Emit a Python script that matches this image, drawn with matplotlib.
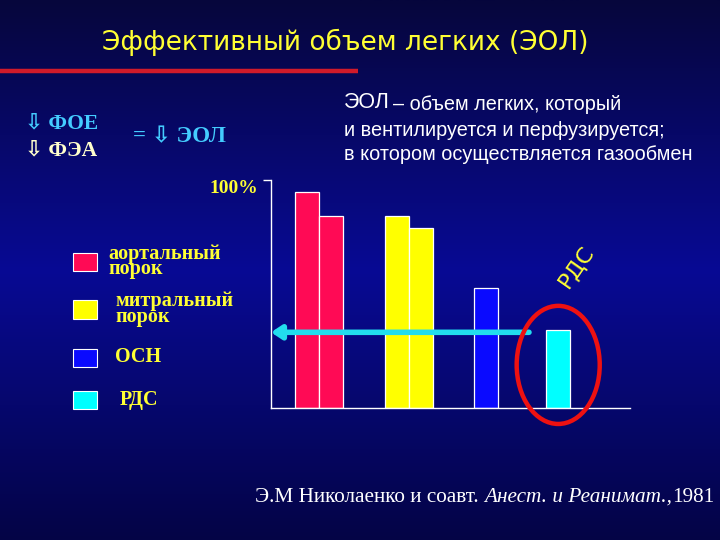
import numpy as np
import matplotlib
matplotlib.use("Agg")
import matplotlib.pyplot as plt
from matplotlib.patches import Rectangle, Ellipse


# ============================================================
# 1. DATA (percent of norm)
# ============================================================

GROUPS = ["аортальный\nпорок", "митральный\nпорок", "ОСН", "РДС"]
GROUP_COLORS = ["#ff0a55", "#ffff00", "#0a0aff", "#00ffff"]

# two bars for each valvular group, one for ОСН and РДС
AORTIC = [94.6, 84.1]
MITRAL = [84.1, 78.9]
OSN = [52.6]
RDS = [34.1]

ARROW_LEVEL = 33.2   # arrow from the РДС bar to the y axis

TITLE = "Эффективный объем легких (ЭОЛ)"
SOURCE = "Э.М Николаенко и соавт."
JOURNAL = "Анест. и Реанимат.,"
YEAR = "1981"

W, H, DPI = 720, 540, 100


# ============================================================
# 2. Figure and background
# ============================================================

fig = plt.figure(figsize=(W / DPI, H / DPI), dpi=DPI)
bg = fig.add_axes([0, 0, 1, 1])
bg.set_xlim(0, W)
bg.set_ylim(H, 0)
bg.axis("off")

rows = np.linspace(0, 1, 256)
top = np.array([6, 6, 60]) / 255
mid = np.array([8, 10, 148]) / 255
bot = np.array([4, 4, 70]) / 255
grad = np.where(rows[:, None] < 0.5,
                top + (mid - top) * (rows[:, None] / 0.5),
                mid + (bot - mid) * ((rows[:, None] - 0.5) / 0.5))
bg.imshow(grad[:, None, :], extent=(0, W, H, 0), aspect="auto", zorder=0)

# title and red rule
bg.text(345, 42, TITLE, color="#ffff33", fontsize=19, ha="center",
        va="center", family="DejaVu Sans")
bg.plot([0, 358], [71, 71], color="#d01a2a", lw=3.2, solid_capstyle="butt")

# left formula
arrow_font = ["Liberation Serif", "DejaVu Sans"]
bg.text(25, 123, "⇩ ФОЕ", color="#44ccff", fontsize=15.5, fontweight="bold",
        va="center", family=arrow_font)
bg.text(25, 150, "⇩ ФЭА", color="#ffffcc", fontsize=15.5, fontweight="bold",
        va="center", family=arrow_font)
bg.text(133, 137, "= ⇩ ЭОЛ", color="#44ccff", fontsize=16.5, fontweight="bold",
        va="center", family=arrow_font)

# definition on the right
bg.text(344, 103, "ЭОЛ", color="white", fontsize=15.5, va="center",
        family="Liberation Sans")
bg.text(393, 104, "– объем легких, который", color="white", fontsize=14.3,
        va="center", family="Liberation Sans")
bg.text(344, 130, "и вентилируется и перфузируется;", color="white",
        fontsize=14.3, va="center", family="Liberation Sans")
bg.text(344, 155, "в котором осуществляется газообмен", color="white",
        fontsize=14.3, va="center", family="Liberation Sans")

# legend
legend_y = [261.5, 309, 357.5, 399.5]
legend_tx = [108, 115, 115, 120]
for y, tx, label, col in zip(legend_y, legend_tx, GROUPS, GROUP_COLORS):
    bg.add_patch(Rectangle((72.5, y - 9), 24.5, 18.5, facecolor=col,
                           edgecolor="white", lw=0.8, zorder=3))
    bg.text(tx, y, label, color="#ffff33", fontsize=14.5, fontweight="bold",
            va="center", family="Liberation Serif", linespacing=0.72)

# source line
src = bg.text(255, 497, SOURCE + " ", color="white", fontsize=15.3,
              va="center", family="Liberation Serif")
fig.canvas.draw()
x1 = src.get_window_extent().x1
t2 = bg.text(x1, H - 497, JOURNAL, color="white", fontsize=15.3, va="center",
             family="Liberation Serif", style="italic", transform=None)
fig.canvas.draw()
x2 = t2.get_window_extent().x1
bg.text(x2, H - 497, YEAR, color="white", fontsize=15.3, va="center",
        family="Liberation Serif", transform=None)


# ============================================================
# 3. Bar chart
# ============================================================

ax = fig.add_axes([271 / W, 1 - 408 / H, (630 - 271) / W, (408 - 180) / H])
ax.set_xlim(0, 15)
ax.set_ylim(0, 100)
ax.patch.set_alpha(0)

values = AORTIC + MITRAL + OSN + RDS
colors = ([GROUP_COLORS[0]] * len(AORTIC) + [GROUP_COLORS[1]] * len(MITRAL)
          + [GROUP_COLORS[2]] * len(OSN) + [GROUP_COLORS[3]] * len(RDS))
xpos = [1.5, 2.5, 5.25, 6.25, 9.0, 12.0]
ax.bar(xpos, values, width=1.0, color=colors, edgecolor="white", lw=0.9,
       zorder=2)

for side in ["top", "right"]:
    ax.spines[side].set_visible(False)
ax.spines["left"].set_color("white")
ax.spines["bottom"].set_color("white")
ax.spines["left"].set_linewidth(1.0)
ax.spines["bottom"].set_linewidth(1.0)
ax.set_xticks([])
ax.set_yticks([100])
ax.set_yticklabels(["100%"], fontsize=14, fontweight="bold",
                   family="Liberation Serif", va="top")
ax.tick_params(axis="y", colors="white", length=6, width=1.0, pad=3)
for lbl in ax.get_yticklabels():
    lbl.set_color("#ffff33")

# arrow from the РДС level to the axis
ax.annotate("", xy=(0.0, ARROW_LEVEL), xytext=(10.78, ARROW_LEVEL),
            arrowprops=dict(arrowstyle="-|>,head_length=0.6,head_width=0.4",
                            color="#22ddee", lw=4.0, shrinkA=0, shrinkB=0),
            zorder=4, annotation_clip=False)

# red ellipse around the РДС bar
ax.add_patch(Ellipse((12.0, 18.9), 3.47, 51.8, fill=False,
                     edgecolor="#ee1111", lw=3.2, clip_on=False, zorder=5))
ax.text(12.75, 61.8, "РДС", color="#ffff33", fontsize=16, rotation=55,
        ha="center", va="center", family="DejaVu Sans")

fig.savefig("out.png", dpi=DPI)
